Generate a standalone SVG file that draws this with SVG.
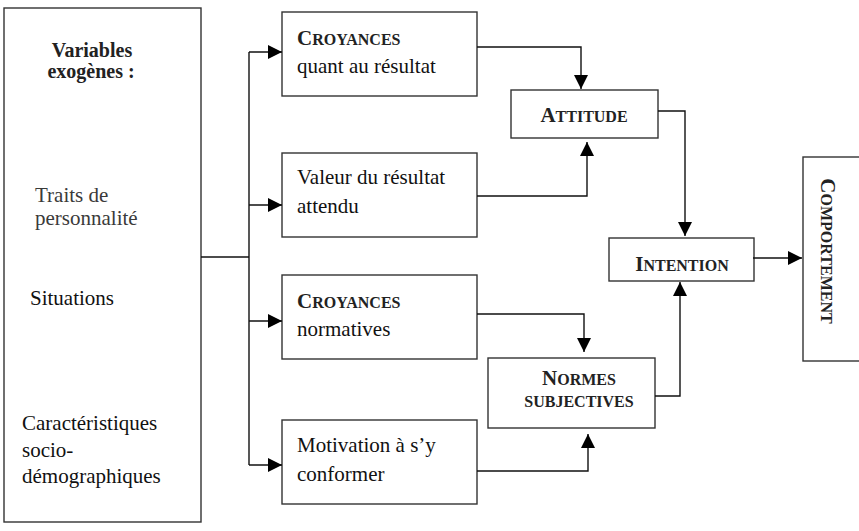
<svg xmlns="http://www.w3.org/2000/svg" width="859" height="531" viewBox="0 0 859 531">
<style>
.box{fill:#fff;stroke:#333;stroke-width:1.4}
.ln{fill:none;stroke:#111;stroke-width:1.4}
.t{font-family:"Liberation Serif","Times New Roman",serif;font-size:21px;fill:#111}
.g{font-family:"Liberation Serif","Times New Roman",serif;font-size:21px;fill:#3a3a3a}
.b{font-family:"Liberation Serif","Times New Roman",serif;font-weight:bold;fill:#222}
.big{font-size:21px}
.sm{font-size:16px}
</style>
<defs>
<marker id="ah" markerUnits="userSpaceOnUse" markerWidth="14" markerHeight="14" refX="14" refY="7" orient="auto" viewBox="0 0 14 14">
<path d="M0,0 L14,7 L0,14 z" fill="#000"/>
</marker>
</defs>
<rect width="859" height="531" fill="#fff"/>
<g id="exogenes">
<rect class="box" x="4" y="8" width="197" height="514"/>
<text class="b" x="92" y="57" text-anchor="middle" font-size="20">Variables</text>
<text class="b" x="91" y="78" text-anchor="middle" font-size="20">exogènes :</text>
<text class="g" x="35" y="202">Traits de</text>
<text class="g" x="35" y="225">personnalité</text>
<text class="t" x="30" y="305">Situations</text>
<text class="t" x="22" y="430">Caractéristiques</text>
<text class="t" x="22" y="457">socio-</text>
<text class="t" x="22" y="483">démographiques</text>
</g>
<g id="croyances-resultat">
<rect class="box" x="282" y="12" width="195" height="84"/>
<text class="b" x="297" y="45"><tspan class="big">C</tspan><tspan class="sm">ROYANCES</tspan></text>
<text class="t" x="297" y="73">quant au résultat</text>
</g>
<g id="valeur">
<rect class="box" x="282" y="153" width="195" height="84"/>
<text class="t" x="297" y="184">Valeur du résultat</text>
<text class="t" x="297" y="213">attendu</text>
</g>
<g id="croyances-normatives">
<rect class="box" x="282" y="275" width="195" height="84"/>
<text class="b" x="297" y="308"><tspan class="big">C</tspan><tspan class="sm">ROYANCES</tspan></text>
<text class="t" x="297" y="336">normatives</text>
</g>
<g id="motivation">
<rect class="box" x="282" y="420" width="195" height="84"/>
<text class="t" x="297" y="452">Motivation à s’y</text>
<text class="t" x="297" y="481">conformer</text>
</g>
<g id="attitude">
<rect class="box" x="511" y="90" width="147" height="48"/>
<text class="b" x="584" y="122" text-anchor="middle"><tspan class="big">A</tspan><tspan class="sm">TTITUDE</tspan></text>
</g>
<g id="normes">
<rect class="box" x="488" y="358" width="167" height="70"/>
<text class="b" x="579" y="385" text-anchor="middle"><tspan class="big">N</tspan><tspan class="sm">ORMES</tspan></text>
<text class="b sm" x="579" y="407" text-anchor="middle">SUBJECTIVES</text>
</g>
<g id="intention">
<rect class="box" x="609" y="238" width="145" height="43"/>
<text class="b" x="682" y="271" text-anchor="middle"><tspan class="big">I</tspan><tspan class="sm">NTENTION</tspan></text>
</g>
<g id="comportement">
<rect class="box" x="803" y="157" width="60" height="204"/>
<text class="b" transform="translate(821,251) rotate(90)" x="0" y="0" text-anchor="middle"><tspan class="big">C</tspan><tspan class="sm">OMPORTEMENT</tspan></text>
</g>
<g id="connectors">
<path class="ln" d="M201,257 H249"/>
<path class="ln" d="M249,52 V465"/>
<path class="ln" d="M249,52 H282" marker-end="url(#ah)"/>
<path class="ln" d="M249,205 H282" marker-end="url(#ah)"/>
<path class="ln" d="M249,321 H282" marker-end="url(#ah)"/>
<path class="ln" d="M249,465 H282" marker-end="url(#ah)"/>
<path class="ln" d="M477,47 H581 V89" marker-end="url(#ah)"/>
<path class="ln" d="M477,196 H587 V142" marker-end="url(#ah)"/>
<path class="ln" d="M658,111 H685 V236" marker-end="url(#ah)"/>
<path class="ln" d="M477,314 H584 V352" marker-end="url(#ah)"/>
<path class="ln" d="M477,471 H588 V434" marker-end="url(#ah)"/>
<path class="ln" d="M655,396 H680 V282" marker-end="url(#ah)"/>
<path class="ln" d="M753,258 H802" marker-end="url(#ah)"/>
</g>
</svg>
